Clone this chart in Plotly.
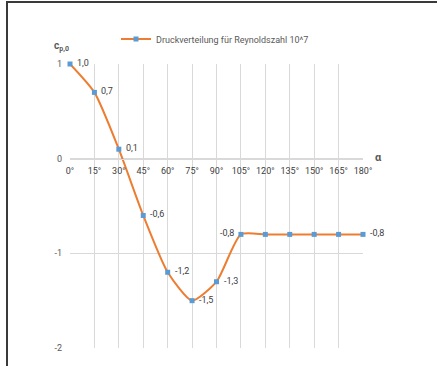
import plotly.graph_objects as go

# Angle around the cylinder (degrees) and pressure coefficient c_p,0
alpha_deg = [0, 15, 30, 45, 60, 75, 90, 105, 120, 135, 150, 165, 180]
cp0 = [1.0, 0.7, 0.1, -0.6, -1.2, -1.5, -1.3, -0.8, -0.8, -0.8, -0.8, -0.8, -0.8]
tick_labels = [f"{a}°" for a in alpha_deg]
# Which points carry a value label, and on which side
label_side = ["right"] * 7 + ["left"] + [None] * 4 + ["right"]

series_name = "Druckverteilung für Reynoldszahl 10^7"

W, H = 437, 366
ml, mr, mt, mb = 70, 74, 64, 18
pw, ph = W - ml - mr, H - mt - mb

def px_x(x):
    return (x - ml) / pw

def px_y(y):
    return 1 - (y - mt) / ph

grey = "#595959"
grid = "#d9d9d9"
font_family = "Roboto, Liberation Sans, sans-serif"

fig = go.Figure()
fig.add_trace(go.Scatter(
    x=alpha_deg, y=cp0, name=series_name,
    mode="lines+markers",
    line=dict(color="#ED7D31", width=2, shape="spline", smoothing=0.6),
    marker=dict(symbol="square", size=5, color="#5B9BD5"),
    cliponaxis=False,
))

# value labels beside the selected points
value_labels = []
for a, v, side in zip(alpha_deg, cp0, label_side):
    if not side:
        continue
    value_labels.append(dict(
        x=a, y=v, xref="x", yref="y", showarrow=False,
        text=f"{v:.1f}".replace(".", ","),
        xanchor="left" if side == "right" else "right",
        xshift=5 if side == "right" else -5, yshift=1,
        font=dict(size=9, color="#404040", family=font_family),
    ))

# y = 0 sits at this fraction of the plot height
zero_frac = (0 - (-2)) / (1 - (-2))

fig.update_layout(
    width=W, height=H,
    margin=dict(l=ml, r=mr, t=mt, b=mb),
    paper_bgcolor="white", plot_bgcolor="white",
    font=dict(family=font_family, size=9, color=grey),
    showlegend=True,
    legend=dict(orientation="h", x=px_x(215), y=px_y(39), xanchor="center", yanchor="middle",
                font=dict(size=9, color=grey), itemwidth=30, bgcolor="rgba(0,0,0,0)"),
    xaxis=dict(
        range=[0, 180], tickvals=alpha_deg, ticktext=tick_labels,
        showgrid=True, gridcolor=grid, gridwidth=1,
        zeroline=False, showline=True, linecolor=grid, linewidth=1,
        anchor="free", position=zero_frac, ticks="", ticklen=0,
        ticklabelstandoff=4,
        tickfont=dict(size=9, color="#404040"),
    ),
    yaxis=dict(
        range=[-2, 1], tickvals=[-2, -1, 0, 1], ticktext=["-2", "-1", "0", "1"],
        showgrid=True, gridcolor=grid, gridwidth=1, zeroline=False, showline=False,
        ticks="", ticklabelstandoff=7, tickfont=dict(size=9, color=grey),
    ),
    annotations=value_labels + [
        dict(text="<b>c<sub>p,0</sub></b>", x=px_x(52), y=px_y(46), xref="paper", yref="paper",
             xanchor="left", yanchor="middle", showarrow=False,
             font=dict(size=10, color=grey)),
        dict(text="<b>α</b>", x=px_x(373), y=px_y(157), xref="paper", yref="paper",
             xanchor="left", yanchor="middle", showarrow=False,
             font=dict(size=11, color=grey)),
    ],
    shapes=[
        dict(type="line", xref="paper", yref="paper", x0=px_x(7), x1=px_x(7),
             y0=px_y(1), y1=px_y(H + 2), line=dict(color="#3a3a3a", width=2)),
        dict(type="line", xref="paper", yref="paper", x0=px_x(6), x1=px_x(W + 2),
             y0=px_y(2), y1=px_y(2), line=dict(color="#3a3a3a", width=2)),
    ],
)

fig.write_html("out.html")
